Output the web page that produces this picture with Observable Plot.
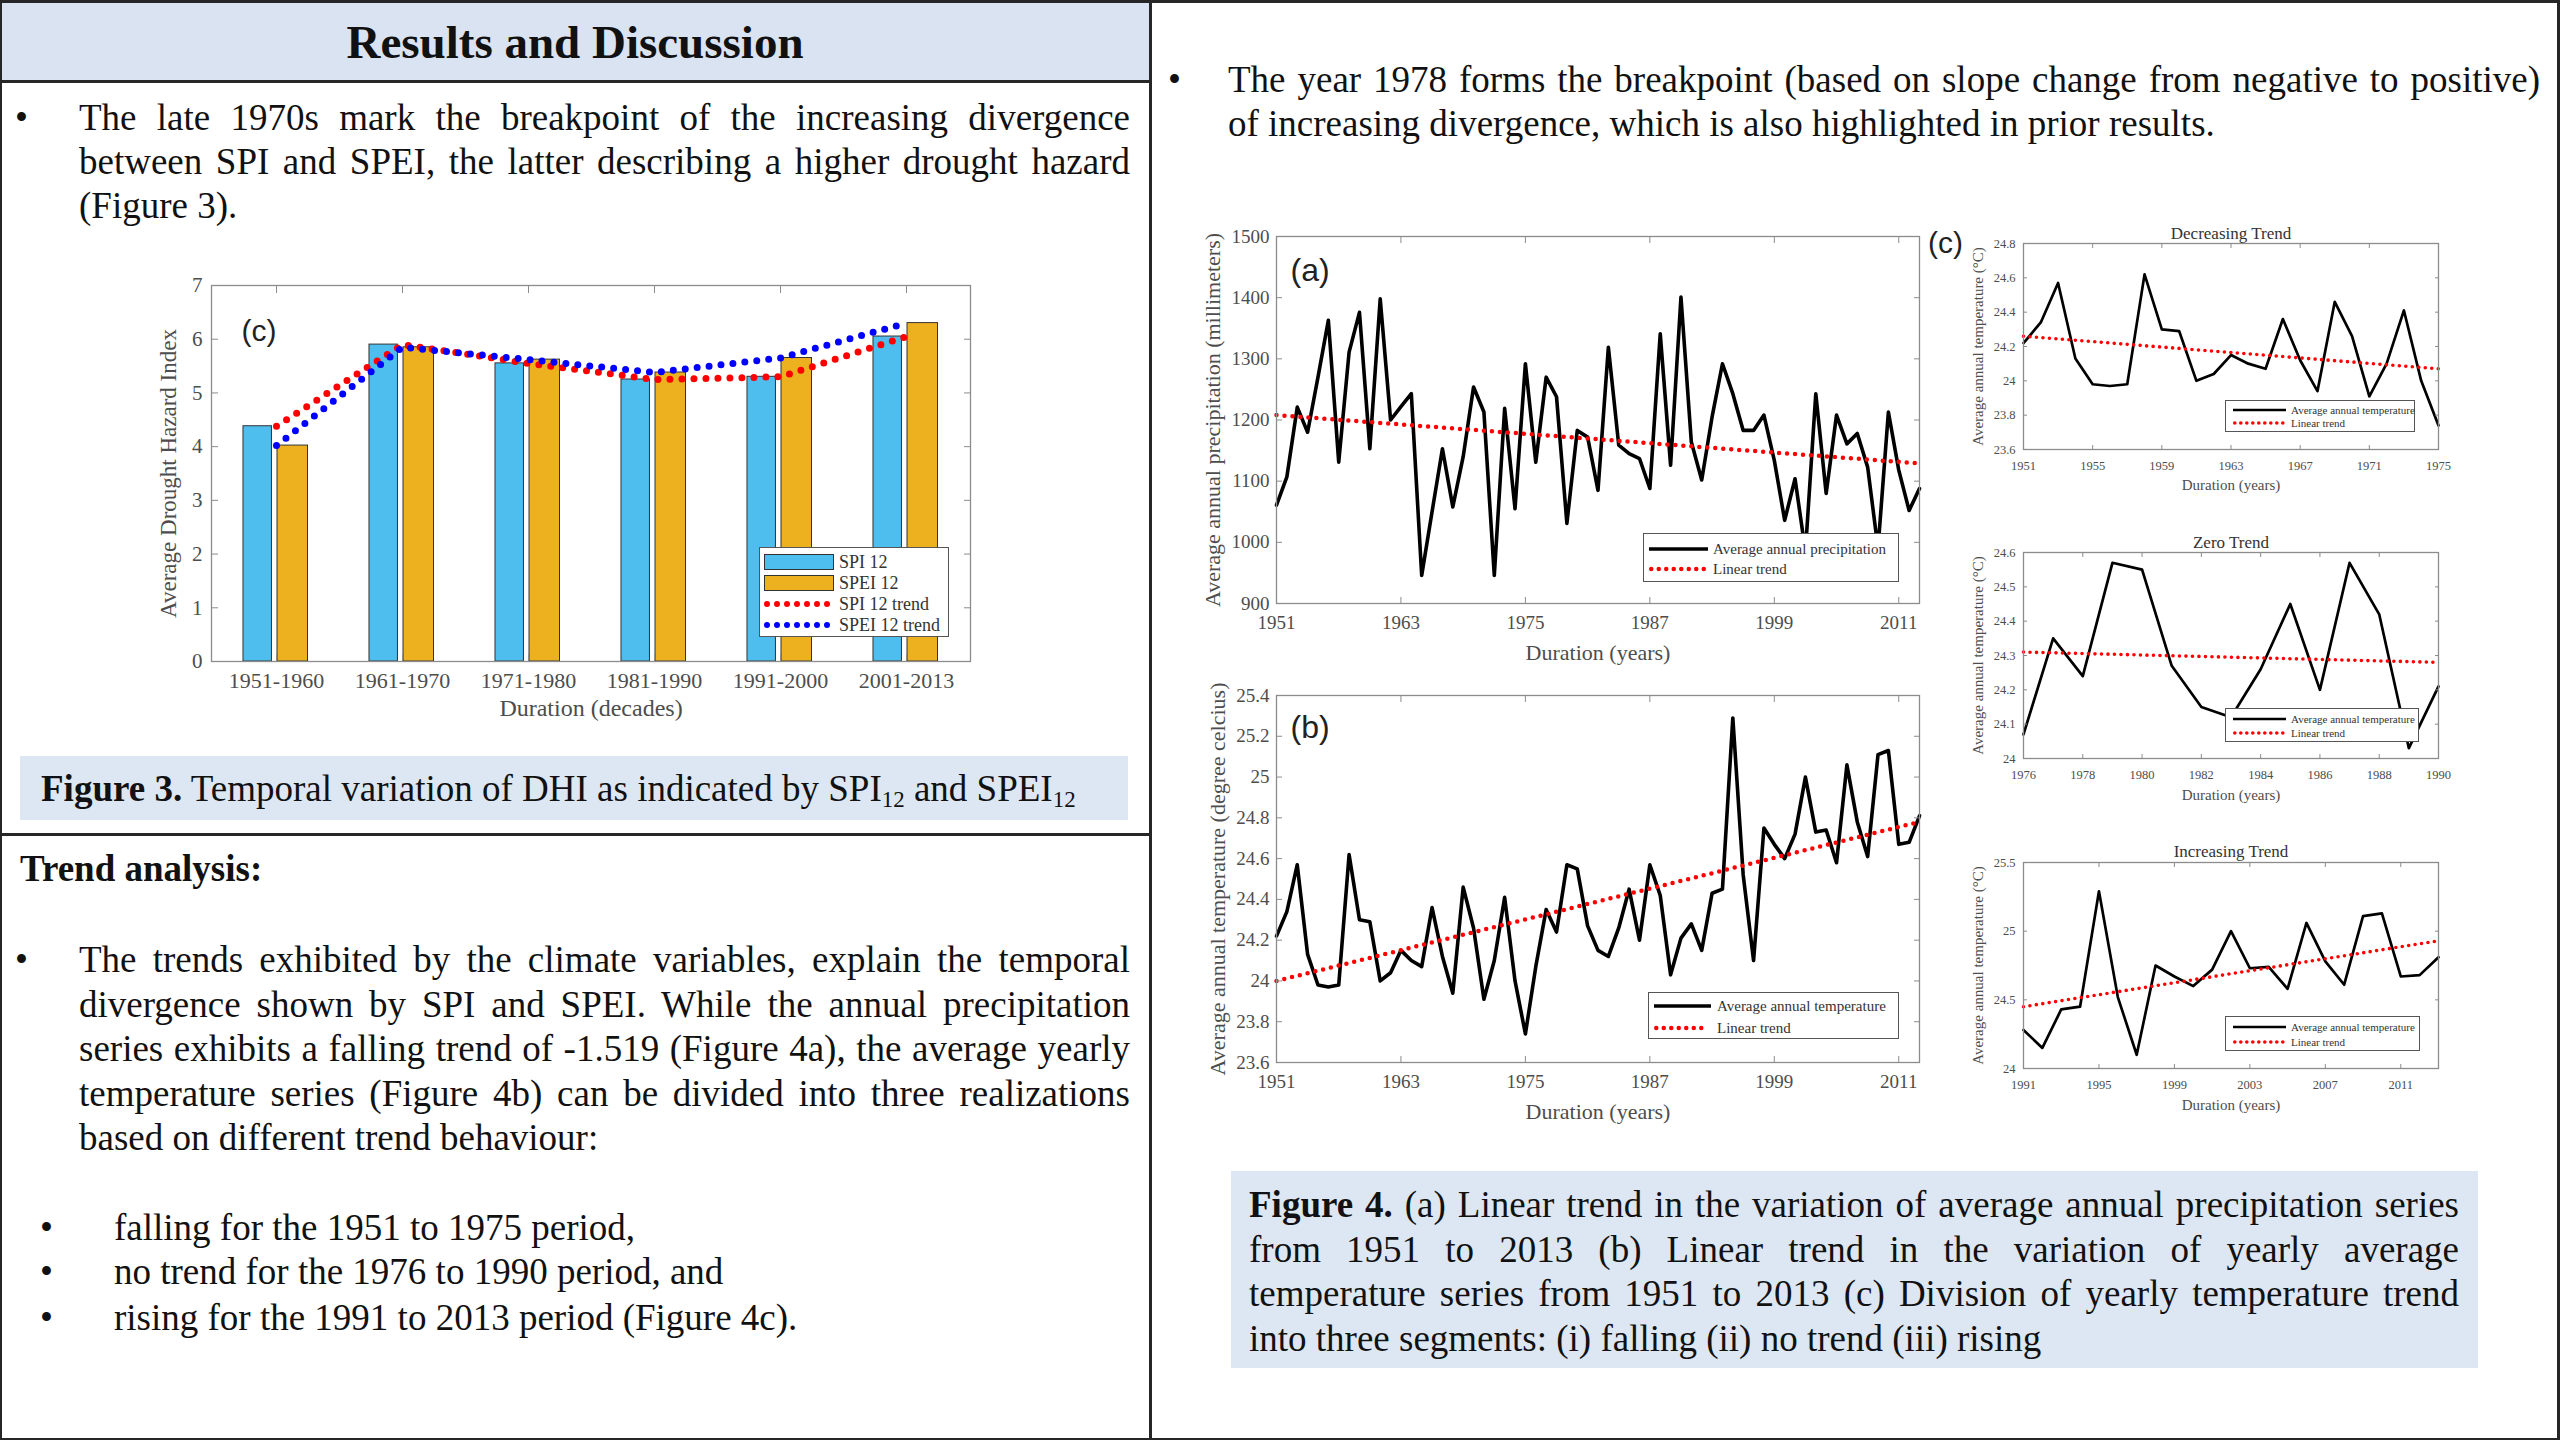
<!DOCTYPE html>
<html><head><meta charset="utf-8">
<script src="https://cdn.jsdelivr.net/npm/d3@7"></script>
<script src="https://cdn.jsdelivr.net/npm/@observablehq/plot@0.6"></script>
<style>
html,body{margin:0;padding:0;background:#fff;}
#page{position:relative;width:2560px;height:1440px;overflow:hidden;background:#fff;font-family:"Liberation Serif","Times New Roman",serif;color:#111;}
.para{position:absolute;font-size:37px;}
.j{text-align:justify;text-align-last:justify;}
.rule{position:absolute;background:#262626;}
.band{position:absolute;background:#dde7f3;}
.bul{position:absolute;font-size:37px;line-height:44px;}
sub{font-size:0.62em;vertical-align:-0.28em;line-height:0;}
</style></head>
<body><div id="page">
  <div class="rule" style="left:0;top:0;width:2560px;height:3px"></div>
  <div class="rule" style="left:0;top:0;width:2px;height:1440px"></div>
  <div class="rule" style="left:2557px;top:0;width:3px;height:1440px"></div>
  <div class="rule" style="left:0;top:1438px;width:2560px;height:2px"></div>
  <div style="position:absolute;left:2px;top:3px;width:1147px;height:78px;background:#d9e3f1"></div>
  <div class="rule" style="left:0;top:80px;width:1151px;height:3px"></div>
  <div class="rule" style="left:1149px;top:0;width:3px;height:1440px"></div>
  <div class="rule" style="left:0;top:833px;width:1151px;height:3px"></div>
  <div style="position:absolute;left:0;top:3px;width:1150px;height:78px;display:flex;align-items:center;justify-content:center;font-weight:bold;font-size:47px">Results and Discussion</div>

  <div class="bul" style="left:15px;top:96px">•</div>
  <div class="para" style="left:79px;top:96px;width:1051px;line-height:44px">
    <div class="j">The late 1970s mark the breakpoint of the increasing divergence</div>
    <div class="j">between SPI and SPEI, the latter describing a higher drought hazard</div>
    <div>(Figure 3).</div>
  </div>

  <div class="band" style="left:20px;top:756px;width:1108px;height:64px"></div>
  <div class="para" style="left:41px;top:767px;line-height:44px;white-space:nowrap"><b>Figure 3.</b> Temporal variation of DHI as indicated by SPI<sub>12</sub> and SPEI<sub>12</sub></div>

  <div class="para" style="left:20px;top:847px;line-height:44px;font-weight:bold">Trend analysis:</div>
  <div class="bul" style="left:15px;top:938px">•</div>
  <div class="para" style="left:79px;top:938px;width:1051px;line-height:44.5px">
    <div class="j">The trends exhibited by the climate variables, explain the temporal</div>
    <div class="j">divergence shown by SPI and SPEI. While the annual precipitation</div>
    <div class="j">series exhibits a falling trend of -1.519 (Figure 4a), the average yearly</div>
    <div class="j">temperature series (Figure 4b) can be divided into three realizations</div>
    <div>based on different trend behaviour:</div>
  </div>
  <div class="bul" style="left:40px;top:1206px">•</div>
  <div class="bul" style="left:40px;top:1250px">•</div>
  <div class="bul" style="left:40px;top:1296px">•</div>
  <div class="para" style="left:114px;top:1206px;line-height:44px">falling for the 1951 to 1975 period,</div>
  <div class="para" style="left:114px;top:1250px;line-height:44px">no trend for the 1976 to 1990 period, and</div>
  <div class="para" style="left:114px;top:1296px;line-height:44px">rising for the 1991 to 2013 period (Figure 4c).</div>

  <div class="bul" style="left:1168px;top:58px">•</div>
  <div class="para" style="left:1228px;top:58px;width:1312px;line-height:44px">
    <div class="j">The year 1978 forms the breakpoint (based on slope change from negative to positive)</div>
    <div>of increasing divergence, which is also highlighted in prior results.</div>
  </div>

  <div class="band" style="left:1231px;top:1171px;width:1247px;height:197px"></div>
  <div class="para" style="left:1249px;top:1183px;width:1210px;line-height:44.5px">
    <div class="j"><b>Figure 4.</b> (a) Linear trend in the variation of average annual precipitation series</div>
    <div class="j">from 1951 to 2013 (b) Linear trend in the variation of yearly average</div>
    <div class="j">temperature series from 1951 to 2013 (c) Division of yearly temperature trend</div>
    <div>into three segments: (i) falling (ii) no trend (iii) rising</div>
  </div>
  <div style="position:absolute;left:1928px;top:226px;font-family:'Liberation Sans',Arial,sans-serif;font-size:30px;color:#222">(c)</div>
</div>
<script>
// ---------- DATA ----------
const decades = ["1951-1960","1961-1970","1971-1980","1981-1990","1991-2000","2001-2013"];
const spi12  = [4.38, 5.90, 5.55, 5.25, 5.30, 6.05];
const spei12 = [4.02, 5.85, 5.62, 5.38, 5.65, 6.30];
const hazardTicks = [0,1,2,3,4,5,6,7];

const years = d3.range(1951, 2014);
const precipitation = [1061,1107,1221,1180,1270,1363,1131,1311,1376,1153,
  1398,1200,1222,1243,946,1050,1153,1058,1140,1254,
  1213,946,1219,1055,1292,1131,1270,1238,1031,1183,
  1172,1085,1319,1159,1145,1137,1088,1341,1126,1401,
  1164,1102,1205,1292,1243,1183,1183,1208,1134,1036,
  1104,985,1243,1080,1208,1161,1178,1123,990,1213,
  1118,1052,1088];
const temperature = [24.22,24.34,24.57,24.13,23.98,23.97,23.98,24.62,24.30,24.29,
  24.00,24.04,24.15,24.10,24.07,24.36,24.12,23.94,24.46,24.26,
  23.91,24.10,24.41,24.00,23.74,24.07,24.35,24.24,24.57,24.55,
  24.27,24.15,24.12,24.26,24.45,24.20,24.57,24.42,24.03,24.21,
  24.28,24.15,24.43,24.45,25.29,24.52,24.10,24.75,24.67,24.60,
  24.72,25.00,24.73,24.74,24.58,25.06,24.78,24.61,25.11,25.13,
  24.67,24.68,24.81];

const precipTrendYears = [1951, 2013], precipTrend = [1208, 1129];
const tempTrendYears = [1951, 2013], tempTrend = [24.00, 24.78];
const fallTrendYears = [1951, 1975], fallTrend = [24.26, 24.07];
const zeroTrendYears = [1976, 1990], zeroTrend = [24.31, 24.28];
const riseTrendYears = [1991, 2013], riseTrend = [24.45, 24.93];

const precipTicks = [900,1000,1100,1200,1300,1400,1500];
const tempTicks = [23.6,23.8,24,24.2,24.4,24.6,24.8,25,25.2,25.4];
const yearTicks = [1951,1963,1975,1987,1999,2011];
const fallYTicks = [23.6,23.8,24,24.2,24.4,24.6,24.8];
const fallXTicks = [1951,1955,1959,1963,1967,1971,1975];
const zeroYTicks = [24,24.1,24.2,24.3,24.4,24.5,24.6];
const zeroXTicks = [1976,1978,1980,1982,1984,1986,1988,1990];
const riseYTicks = [24,24.5,25,25.5];
const riseXTicks = [1991,1995,1999,2003,2007,2011];

// ---------- HELPERS ----------
const page = document.getElementById("page");
const AX = "#8c8c8c", TX = "#4d4d4d";
function place(el, left, top) {
  el.style.position = "absolute"; el.style.left = left + "px"; el.style.top = top + "px";
  page.appendChild(el);
}
const svgStyle = (fs) => ({background:"transparent", fontFamily:"'Liberation Serif','Times New Roman',serif", fontSize: fs + "px", overflow:"visible", color: TX});

function lineChart(c) {
  const pts = c.values.map((v,i) => ({year: c.years[i], value: v}));
  const tr = c.trendYears.map((y,i) => ({year: y, value: c.trendValues[i]}));
  const marks = [
    Plot.line(pts, {x:"year", y:"value", stroke:"#000", strokeWidth:c.lineW}),
    Plot.line(tr, {x:"year", y:"value", stroke:"#ff0000", strokeWidth:c.trendW, strokeDasharray:c.dash, strokeLinecap:"round"}),
    Plot.frame({stroke:AX, strokeWidth:1.3}),
    Plot.axisY(c.yTicks, {anchor:"left", tickSize:-c.tick, tickPadding:c.padY, tickFormat:d=>String(d), label:null, stroke:AX, fill:TX, fontSize:c.tickFs}),
    Plot.axisY(c.yTicks, {anchor:"right", tickSize:-c.tick, tickFormat:()=>"", label:null, stroke:AX}),
    Plot.axisX(c.xTicks, {anchor:"bottom", tickSize:-c.tick, tickPadding:c.padX, tickFormat:d=>String(d), label:null, stroke:AX, fill:TX, fontSize:c.tickFs}),
    Plot.axisX(c.xTicks, {anchor:"top", tickSize:-c.tick, tickFormat:()=>"", label:null, stroke:AX}),
    Plot.text([c.ylabel], {text:d=>d, frameAnchor:"left", rotate:-90, dx:c.ylabelDx, textAnchor:"middle", lineAnchor:"middle", fontSize:c.labelFs, fill:TX}),
    Plot.text([c.xlabel], {text:d=>d, frameAnchor:"bottom", dy:c.xlabelDy, textAnchor:"middle", lineAnchor:"middle", fontSize:c.labelFs, fill:TX})
  ];
  if (c.title) marks.push(Plot.text([c.title], {text:d=>d, frameAnchor:"top", dy:c.titleDy, textAnchor:"middle", lineAnchor:"middle", fontSize:c.titleFs, fill:"#333"}));
  if (c.tag) marks.push(Plot.text([c.tag], {text:d=>d, frameAnchor:"top-left", dx:c.tagDx, dy:c.tagDy, textAnchor:"start", lineAnchor:"top", fontSize:32, fill:"#222", fontFamily:"'Liberation Sans',Arial,sans-serif"}));
  const p = Plot.plot({
    width:c.width, height:c.height, marginLeft:c.mL, marginRight:c.mR, marginTop:c.mT, marginBottom:c.mB,
    style: svgStyle(c.tickFs),
    x: {domain:c.xDomain}, y: {domain:c.yDomain},
    marks
  });
  place(p, c.left, c.top);
}

function legend(c) {
  const div = document.createElement("div");
  Object.assign(div.style, {width:c.width+"px", height:c.height+"px", background:"#fff", border:"1px solid #555", boxSizing:"border-box"});
  const ns = "http://www.w3.org/2000/svg";
  c.rows.forEach((r, i) => {
    const cy = c.rowY[i];
    const s = document.createElementNS(ns, "svg");
    s.setAttribute("width", c.swW); s.setAttribute("height", 24);
    Object.assign(s.style, {position:"absolute", left:c.swX+"px", top:(cy-12)+"px"});
    if (r.kind === "rect") {
      const e = document.createElementNS(ns, "rect");
      e.setAttribute("x", 0.5); e.setAttribute("y", 12 - c.rectH/2); e.setAttribute("width", c.swW - 1); e.setAttribute("height", c.rectH);
      e.setAttribute("fill", r.color); e.setAttribute("stroke", "#333");
      s.appendChild(e);
    } else {
      const e = document.createElementNS(ns, "line");
      const pad = r.dash ? r.w/2 : 0;
      e.setAttribute("x1", pad); e.setAttribute("x2", c.swW - pad); e.setAttribute("y1", 12); e.setAttribute("y2", 12);
      e.setAttribute("stroke", r.color); e.setAttribute("stroke-width", r.w);
      if (r.dash) { e.setAttribute("stroke-dasharray", r.dash); e.setAttribute("stroke-linecap", "round"); }
      s.appendChild(e);
    }
    div.appendChild(s);
    const t = document.createElement("div");
    t.textContent = r.label;
    Object.assign(t.style, {position:"absolute", left:c.textX+"px", top:cy+"px", transform:"translateY(-50%)", fontSize:c.fs+"px", lineHeight:"1", whiteSpace:"nowrap", color:"#333"});
    div.appendChild(t);
  });
  place(div, c.left, c.top);
}

// ---------- FIGURE 3 (bar chart) ----------
const barData = decades.map((d,i) => ({decade:d, spi:spi12[i], spei:spei12[i]}));
const bW = 900, bML = 111, bMR = 30;
const bw = (bW - bML - bMR) / decades.length;
const barPlot = Plot.plot({
  width:bW, height:480, marginLeft:bML, marginRight:bMR, marginTop:25, marginBottom:79,
  style: svgStyle(21),
  x: {type:"band", domain:decades, padding:0},
  y: {domain:[0,7]},
  marks: [
    Plot.barY(barData, {x:"decade", y:"spi", fill:"#4DBEEE", stroke:"#333", strokeWidth:1, insetLeft:bw*0.237, insetRight:bw*0.534}),
    Plot.barY(barData, {x:"decade", y:"spei", fill:"#EDB120", stroke:"#333", strokeWidth:1, insetLeft:bw*0.506, insetRight:bw*0.249}),
    Plot.line(barData, {x:"decade", y:"spi", stroke:"#ff0000", strokeWidth:7, strokeDasharray:"0,12", strokeLinecap:"round"}),
    Plot.line(barData, {x:"decade", y:"spei", stroke:"#0000ff", strokeWidth:7, strokeDasharray:"0,12", strokeLinecap:"round"}),
    Plot.frame({stroke:AX, strokeWidth:1.3}),
    Plot.axisY(hazardTicks, {anchor:"left", tickSize:-7, tickPadding:16, tickFormat:d=>String(d), label:null, stroke:AX, fill:TX, fontSize:21}),
    Plot.axisY(hazardTicks, {anchor:"right", tickSize:-7, tickFormat:()=>"", label:null, stroke:AX}),
    Plot.axisX(decades, {anchor:"bottom", tickSize:-7, tickPadding:18, label:null, stroke:AX, fill:TX, fontSize:22}),
    Plot.axisX(decades, {anchor:"top", tickSize:-7, tickFormat:()=>"", label:null, stroke:AX}),
    Plot.text(["Average Drought Hazard Index"], {text:d=>d, frameAnchor:"left", rotate:-90, dx:-43, textAnchor:"middle", lineAnchor:"middle", fontSize:23, fill:TX}),
    Plot.text(["Duration (decades)"], {text:d=>d, frameAnchor:"bottom", dy:47, textAnchor:"middle", lineAnchor:"middle", fontSize:24, fill:TX}),
    Plot.text(["(c)"], {text:d=>d, frameAnchor:"top-left", dx:30, dy:34, textAnchor:"start", lineAnchor:"top", fontSize:30, fill:"#222", fontFamily:"'Liberation Sans',Arial,sans-serif"})
  ]
});
place(barPlot, 100, 260);
legend({left:759, top:547, width:190, height:90, swX:4, swW:70, textX:79, rectH:15, fs:18,
  rowY:[14,35,56,77],
  rows:[{kind:"rect", color:"#4DBEEE", label:"SPI 12"},
        {kind:"rect", color:"#EDB120", label:"SPEI 12"},
        {kind:"line", color:"#ff0000", w:6, dash:"0,10", label:"SPI 12 trend"},
        {kind:"line", color:"#0000ff", w:6, dash:"0,10", label:"SPEI 12 trend"}]});

// ---------- FIGURE 4 (a) and (b) ----------
const big = {width:760, height:470, mL:96, mR:21, mT:26, mB:77, lineW:3.6, trendW:4.5, dash:"0,8", tick:6, padY:13, padX:18, tickFs:19, labelFs:22, xlabel:"Duration (years)", xlabelDy:49, xTicks:yearTicks, xDomain:[1951,2013]};
lineChart({...big, left:1180, top:210, years, values:precipitation, trendYears:precipTrendYears, trendValues:precipTrend,
  yDomain:[900,1500], yTicks:precipTicks, ylabel:"Average annual precipitation (millimeters)", ylabelDx:-64, tag:"(a)", tagDx:14, tagDy:22});
lineChart({...big, left:1180, top:669, years, values:temperature, trendYears:tempTrendYears, trendValues:tempTrend,
  yDomain:[23.6,25.4], yTicks:tempTicks, ylabel:"Average annual temperature (degree celcius)", ylabelDx:-59, tag:"(b)", tagDx:14, tagDy:20});
legend({left:1643, top:533, width:256, height:49, swX:5, swW:59, textX:69, fs:15, rowY:[15,35],
  rows:[{kind:"line", color:"#000", w:3.6, label:"Average annual precipitation"},
        {kind:"line", color:"#ff0000", w:4.5, dash:"0,7.5", label:"Linear trend"}]});
legend({left:1648, top:992, width:251, height:47, swX:5, swW:57, textX:68, fs:15, rowY:[13,35],
  rows:[{kind:"line", color:"#000", w:3.6, label:"Average annual temperature"},
        {kind:"line", color:"#ff0000", w:4.5, dash:"0,7.5", label:"Linear trend"}]});

// ---------- FIGURE 4 (c) three segments ----------
const small = {width:520, height:290, left:1940, mL:83, mR:22, mT:28, mB:56, lineW:2.7, trendW:3.6, dash:"0,6.5", tick:4, padY:12, padX:16, tickFs:12.5, labelFs:15, titleFs:17, xlabel:"Duration (years)", ylabel:"Average annual temperature (°C)", ylabelDx:-45};
lineChart({...small, top:215, years:years.slice(0,25), values:temperature.slice(0,25), trendYears:fallTrendYears, trendValues:fallTrend,
  xDomain:[1951,1975], yDomain:[23.6,24.8], xTicks:fallXTicks, yTicks:fallYTicks, title:"Decreasing Trend", titleDy:-10, xlabelDy:36});
lineChart({...small, top:524, years:years.slice(25,40), values:temperature.slice(25,40), trendYears:zeroTrendYears, trendValues:zeroTrend,
  xDomain:[1976,1990], yDomain:[24,24.6], xTicks:zeroXTicks, yTicks:zeroYTicks, title:"Zero Trend", titleDy:-10, xlabelDy:37});
lineChart({...small, top:834, years:years.slice(40), values:temperature.slice(40), trendYears:riseTrendYears, trendValues:riseTrend,
  xDomain:[1991,2013], yDomain:[24,25.5], xTicks:riseXTicks, yTicks:riseYTicks, title:"Increasing Trend", titleDy:-11, xlabelDy:37});
const smallRows = [{kind:"line", color:"#000", w:2.7, label:"Average annual temperature"},
                   {kind:"line", color:"#ff0000", w:3.6, dash:"0,6", label:"Linear trend"}];
legend({left:2225, top:400, width:190, height:32, swX:7, swW:53, textX:65, fs:11, rowY:[9,22], rows:smallRows});
legend({left:2225, top:708, width:194, height:34, swX:7, swW:53, textX:65, fs:11, rowY:[10,24], rows:smallRows});
legend({left:2225, top:1016, width:195, height:35, swX:7, swW:53, textX:65, fs:11, rowY:[10,25], rows:smallRows});
</script>
</body></html>
